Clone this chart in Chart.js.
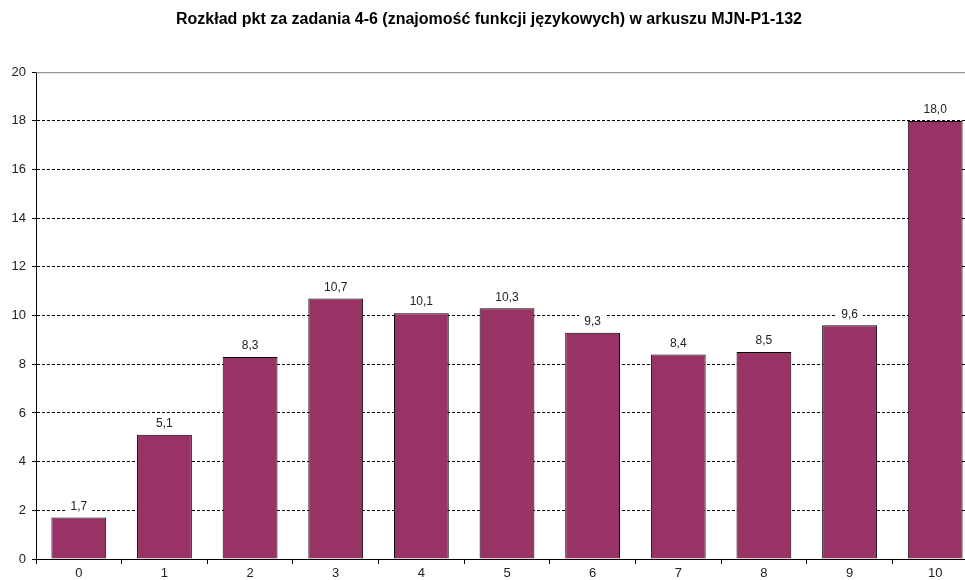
<!DOCTYPE html>
<html>
<head>
<meta charset="utf-8">
<script src="https://cdn.jsdelivr.net/npm/chart.js@4/dist/chart.umd.min.js"></script>
<style>
  html, body { margin: 0; padding: 0; background: #fff; overflow: hidden; }
</style>
</head>
<body>
<canvas id="chart" width="980" height="580"></canvas>
<script>
let categories = ["0", "1", "2", "3", "4", "5", "6", "7", "8", "9", "10"];
let values = [1.7, 5.1, 8.3, 10.7, 10.1, 10.3, 9.3, 8.4, 8.5, 9.6, 18.0];
let yTicks = [0, 2, 4, 6, 8, 10, 12, 14, 16, 18, 20];
let title = "Rozkład pkt za zadania 4-6 (znajomość funkcji językowych) w arkuszu MJN-P1-132";

// value labels above bars, on a white box so the dashed grid breaks
let barLabels = {
    id: "barLabels",
    afterDatasetsDraw(chart){
        let ctx = chart.ctx;
        let meta = chart.getDatasetMeta(0);
        ctx.save();
        ctx.font = "12px 'Liberation Sans', Arial, sans-serif";
        ctx.textAlign = "center";
        ctx.textBaseline = "bottom";
        meta.data.forEach(function(bar, i){
            let txt = values[i].toFixed(1).replace(".", ",");
            let w = ctx.measureText(txt).width;
            let yb = bar.y - 5;
            ctx.fillStyle = "#fff";
            ctx.fillRect(bar.x - w/2 - 5, yb - 14, w + 10, 15);
            ctx.fillStyle = "#222";
            ctx.fillText(txt, bar.x, yb);
        });
        ctx.restore();
    }
};

// solid grey line on top of the plot area
let topLine = {
    id: "topLine",
    beforeDatasetsDraw(chart){
        let a = chart.chartArea;
        let ctx = chart.ctx;
        ctx.save();
        ctx.strokeStyle = "#808080";
        ctx.lineWidth = 1;
        ctx.beginPath();
        ctx.moveTo(a.left, a.top + 0.5);
        ctx.lineTo(a.right, a.top + 0.5);
        ctx.stroke();
        ctx.restore();
    }
};

new Chart(document.getElementById("chart"), {
    type: "bar",
    data: {
        labels: categories,
        datasets: [{
            data: values,
            backgroundColor: "#993366",
            borderColor: "#000",
            borderWidth: 1,
            categoryPercentage: 1,
            barPercentage: 0.64
        }]
    },
    options: {
        responsive: false,
        animation: false,
        layout: { padding: { left: 0, right: 2, top: 0, bottom: 0 } },
        plugins: {
            legend: { display: false },
            tooltip: { enabled: false },
            title: {
                display: true,
                text: title,
                color: "#000",
                font: { family: "'Liberation Sans', Arial, sans-serif", size: 16, weight: "bold" },
                padding: { top: 10, bottom: 43 }
            }
        },
        scales: {
            x: {
                grid: { drawOnChartArea: false, drawTicks: true, tickLength: 5, tickColor: "#000", offset: true },
                border: { color: "#000", width: 1 },
                ticks: { color: "#222", font: { family: "'Liberation Sans', Arial, sans-serif", size: 13 }, padding: 2 },
                afterFit(s){ s.height = 21; }
            },
            y: {
                min: 0,
                max: 20,
                afterBuildTicks(s){ s.ticks = yTicks.map(function(v){ return { value: v }; }); },
                grid: {
                    color: function(c){ return c.tick && c.tick.value === 20 ? "rgba(0,0,0,0)" : "#000"; },
                    lineWidth: 1,
                    tickLength: 4,
                    tickColor: "#000"
                },
                border: { color: "#000", width: 1, dash: [3, 2] },
                ticks: { color: "#222", font: { family: "'Liberation Sans', Arial, sans-serif", size: 13 }, padding: 6 },
                afterFit(s){ s.width = 36; }
            }
        }
    },
    plugins: [barLabels, topLine]
});
</script>
</body>
</html>
